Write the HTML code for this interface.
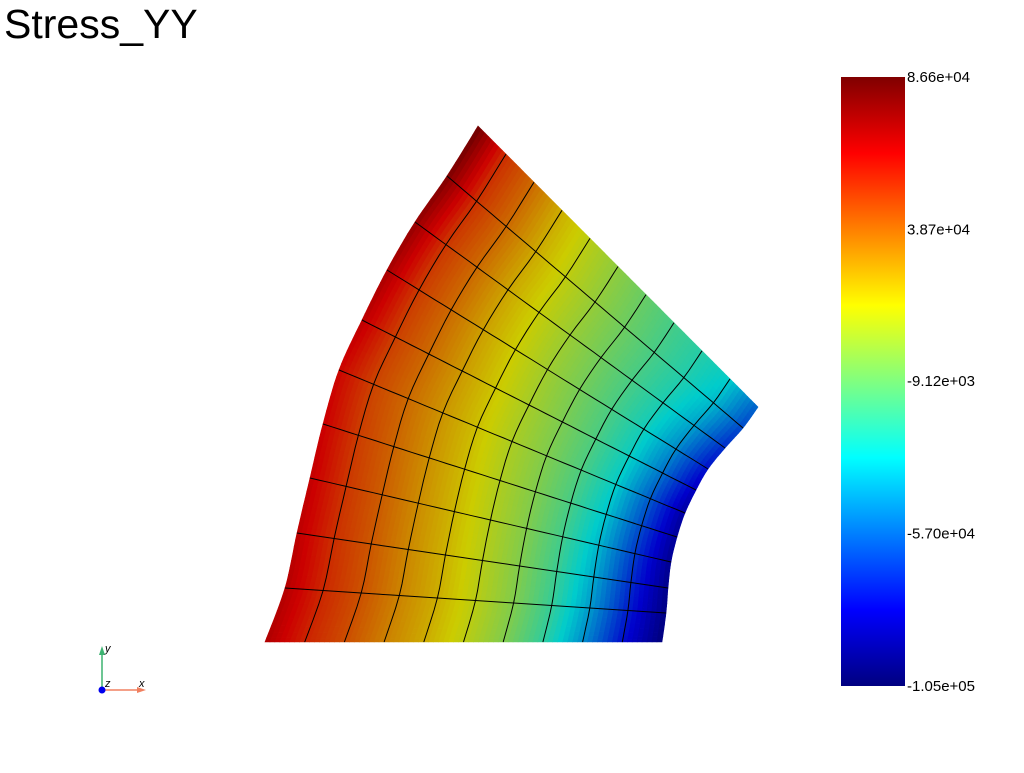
<!DOCTYPE html>
<html><head><meta charset="utf-8"><style>
body{margin:0;background:#fff;width:1024px;height:768px;overflow:hidden;font-family:"Liberation Sans",sans-serif}
</style></head><body>
<svg id="svg" width="1024" height="768" viewBox="0 0 1024 768" xmlns="http://www.w3.org/2000/svg">
<defs>
<linearGradient id="jet" x1="0" y1="1" x2="0" y2="0">
<stop offset="0" stop-color="#000080"/><stop offset="0.125" stop-color="#0000ff"/>
<stop offset="0.375" stop-color="#00ffff"/><stop offset="0.5" stop-color="#80ff80"/>
<stop offset="0.625" stop-color="#ffff00"/><stop offset="0.875" stop-color="#ff0000"/>
<stop offset="1" stop-color="#800000"/></linearGradient></defs>
<text x="4" y="38" font-size="41" font-family="Liberation Sans, sans-serif" fill="#000">Stress_YY</text>
<g id="mesh"></g>
<g id="grid"></g>
<rect x="841" y="77" width="64" height="609" fill="url(#jet)"/>
<g id="cbl" font-size="15" fill="#000"></g>
<g>
<line x1="102" y1="690" x2="102" y2="653" stroke="#3cb371" stroke-width="1.5"/>
<polygon points="102,646 99,655 105,655" fill="#3cb371"/>
<line x1="102" y1="690" x2="138" y2="690" stroke="#f08060" stroke-width="1.5"/>
<polygon points="146,690 137,687 137,693" fill="#f08060"/>
<circle cx="102" cy="690" r="3.5" fill="#0000ee"/>
<text x="105" y="652" font-size="11" font-style="italic">y</text>
<text x="105" y="687" font-size="11" font-style="italic">z</text>
<text x="139" y="687" font-size="11" font-style="italic">x</text>
</g>
</svg>
<script>
// data: field values along radial index (0 = outer edge, 10 = hole edge)
const valBottom=[70000,55000,45000,33000,23000,11000,-3000,-22000,-48000,-78000,-100000];
const valMid=[62000,47000,38000,28000,18000,7000,-3000,-15000,-32000,-60000,-92000];
const valTop=[86000,52000,38000,22000,10000,0,-9000,-17000,-24000,-32000,-58000];
const tickValues=[86600,38700,-9120,-57000,-105000];
const tickLabels=["8.66e+04","3.87e+04","-9.12e+03","-5.70e+04","-1.05e+05"];
const vmin=-105000,vmax=86600;
// boundary geometry (j index bottom->top)
const outerX=[265,285,297,310,323,339,362,387,415,447,478],outerY=[642,588,533,478,424,370,320,270,222,176,126];
const innerX=[662,666,668,671,677,685,696,708,725,743,758],innerY=[642,613,588,562,537,513,490,469,448,428,407];
const N=10;
function lerp(a,b,t){return a+(b-a)*t}
function cr(p0,p1,p2,p3,f){return 0.5*((2*p1)+(-p0+p2)*f+(2*p0-5*p1+4*p2-p3)*f*f+(-p0+3*p1-3*p2+p3)*f*f*f)}
function edge(ax,ay,t){const k=Math.min(N-1,Math.floor(t*N)),f=t*N-k;
 const a=Math.max(0,k-1),d=Math.min(N,k+2);
 return [cr(ax[a],ax[k],ax[k+1],ax[d],f),cr(ay[a],ay[k],ay[k+1],ay[d],f)]}
function pos(u,v){
 const L=edge(outerX,outerY,v),R=edge(innerX,innerY,v);
 const B=[lerp(265,662,u),642],T=[lerp(478,758,u),lerp(126,407,u)];
 const c00=[265,642],c10=[662,642],c01=[478,126],c11=[758,407];
 return [0,1].map(d=>(1-u)*L[d]+u*R[d]+(1-v)*B[d]+v*T[d]-((1-u)*(1-v)*c00[d]+u*(1-v)*c10[d]+(1-u)*v*c01[d]+u*v*c11[d]));}
function arrAt(a,u){const t=u*N,k=Math.min(N-1,Math.floor(t)),f=t-k;return lerp(a[k],a[k+1],f)}
function val(u,v){const b=arrAt(valBottom,u),m=arrAt(valMid,u),t=arrAt(valTop,u);return v<0.5?lerp(b,m,v*2):lerp(m,t,(v-0.5)*2)}
const stops=[[0,0,0,128],[0.125,0,0,255],[0.375,0,255,255],[0.5,128,255,128],[0.625,255,255,0],[0.875,255,0,0],[1,128,0,0]];
function col(x){let t=(x-vmin)/(vmax-vmin);t=Math.max(0,Math.min(1,t));for(let i=1;i<stops.length;i++){if(t<=stops[i][0]){const a=stops[i-1],b=stops[i],f=(t-a[0])/(b[0]-a[0]);const c=[1,2,3].map(k=>Math.round(lerp(a[k],b[k],f)*0.8));return `rgb(${c})`}}return 'rgb(102,0,0)'}
const NS='http://www.w3.org/2000/svg',mesh=document.getElementById('mesh'),grid=document.getElementById('grid');
const S=8,M=N*S;
for(let i=0;i<M;i++)for(let j=0;j<M;j++){
 const u0=i/M,u1=(i+1)/M,v0=j/M,v1=(j+1)/M;
 const pts=[pos(u0,v0),pos(u1,v0),pos(u1,v1),pos(u0,v1)].map(p=>p[0].toFixed(1)+','+p[1].toFixed(1)).join(' ');
 const c=col(val((u0+u1)/2,(v0+v1)/2));
 const pg=document.createElementNS(NS,'polygon');
 pg.setAttribute('points',pts);pg.setAttribute('fill',c);pg.setAttribute('stroke',c);pg.setAttribute('stroke-width','0.6');
 
 
 mesh.appendChild(pg);}
function line(f){let d='';for(let k=0;k<=40;k++){const p=f(k/40);d+=(k?'L':'M')+p[0].toFixed(1)+','+p[1].toFixed(1)}
 const pa=document.createElementNS(NS,'path');pa.setAttribute('d',d);pa.setAttribute('fill','none');pa.setAttribute('stroke','#000');pa.setAttribute('stroke-width','1');
 
 
 grid.appendChild(pa);}
for(let k=1;k<N;k++){line(t=>pos(k/N,t));line(t=>pos(t,k/N));}
const cbl=document.getElementById('cbl');
tickValues.forEach((v,i)=>{const y=686-(v-vmin)/(vmax-vmin)*609;const t=document.createElementNS(NS,'text');
 t.setAttribute('x',907);t.setAttribute('y',y+5);t.textContent=tickLabels[i];
 
 
 cbl.appendChild(t);});
</script>
</body></html>
